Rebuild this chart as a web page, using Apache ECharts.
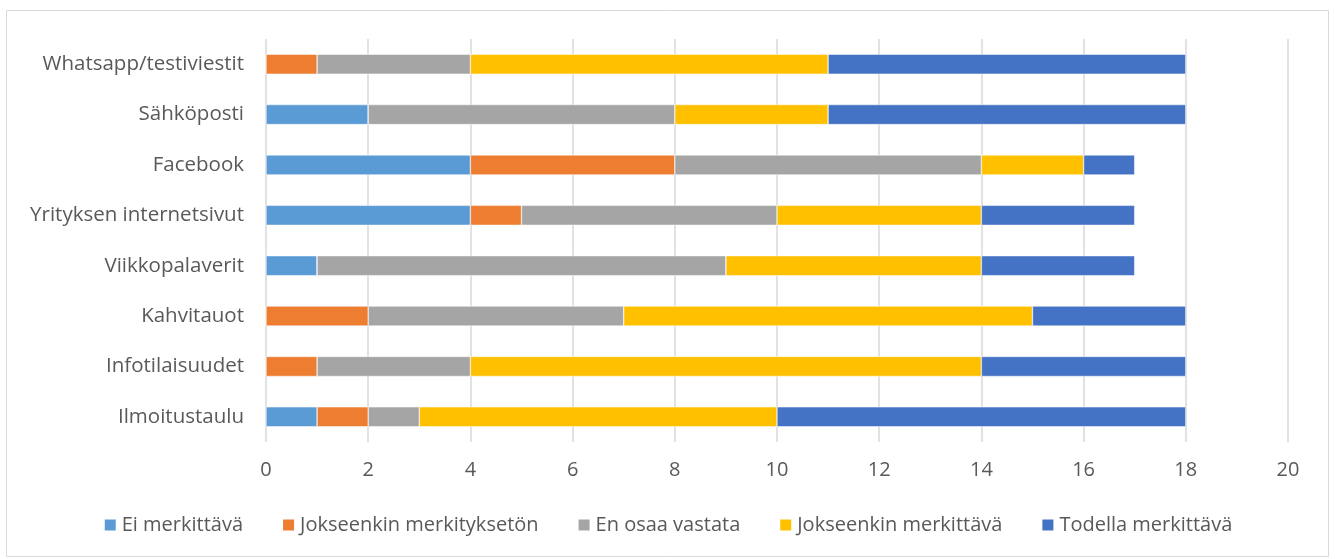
<!DOCTYPE html>
<html>
<head>
<meta charset="utf-8">
<script src="https://cdn.jsdelivr.net/npm/echarts@6/dist/echarts.min.js"></script>
<style>
  html, body { margin: 0; padding: 0; background: #fff; }
</style>
</head>
<body>
<div id="echarts" style="width: 1335px; height: 559px"></div>
<script>
// categories, bottom to top as on the axis
const categories = ['Ilmoitustaulu', 'Infotilaisuudet', 'Kahvitauot', 'Viikkopalaverit',
  'Yrityksen internetsivut', 'Facebook', 'Sähköposti', 'Whatsapp/testiviestit'];

const eiMerkittava = [1, 0, 0, 1, 4, 4, 2, 0];
const jokMerkityksetón = [1, 1, 2, 0, 1, 4, 0, 1];
const enOsaa = [1, 3, 5, 8, 5, 6, 6, 3];
const jokMerkittava = [7, 10, 8, 5, 4, 2, 3, 7];
const todellaMerkittava = [8, 4, 3, 3, 3, 1, 7, 7];

const seriesNames = ['Ei merkittävä', 'Jokseenkin merkityksetön', 'En osaa vastata',
  'Jokseenkin merkittävä', 'Todella merkittävä'];
const seriesColors = ['#5b9bd5', '#ed7d31', '#a5a5a5', '#ffc000', '#4472c4'];
const seriesValues = [eiMerkittava, jokMerkityksetón, enOsaa, jokMerkittava, todellaMerkittava];

const font = 'Open Sans';
let myChart = echarts.init(document.getElementById('echarts'));

myChart.setOption({
  animation: false,
  textStyle: { fontFamily: font },
  graphic: [{
    type: 'rect',
    shape: { x: 6.5, y: 10.5, width: 1322, height: 546 },
    style: { fill: 'none', stroke: '#d9d9d9', lineWidth: 1 },
    silent: true
  }],
  grid: { left: 266, right: 47, top: 39, bottom: 117 },
  legend: {
    bottom: 19,
    left: 'center',
    itemWidth: 13,
    itemHeight: 13,
    itemGap: 38,
    icon: 'rect',
    textStyle: { color: '#595959', fontSize: 20, fontFamily: font },
    data: seriesNames
  },
  xAxis: {
    type: 'value',
    min: 0,
    max: 20,
    interval: 2,
    axisLine: { show: false },
    axisTick: { show: false },
    splitLine: { lineStyle: { color: '#d9d9d9', width: 1.5 } },
    axisLabel: { color: '#595959', fontSize: 20, margin: 18 }
  },
  yAxis: {
    type: 'category',
    data: categories,
    axisLine: { show: false },
    axisTick: { show: false },
    axisLabel: { color: '#595959', fontSize: 20.5, margin: 22 }
  },
  series: seriesNames.map((name, i) => ({
    name: name,
    type: 'bar',
    stack: 'total',
    barWidth: 20,
    itemStyle: { color: seriesColors[i], borderColor: '#fff', borderWidth: 0.5 },
    data: seriesValues[i]
  }))
});
</script>
</body>
</html>
